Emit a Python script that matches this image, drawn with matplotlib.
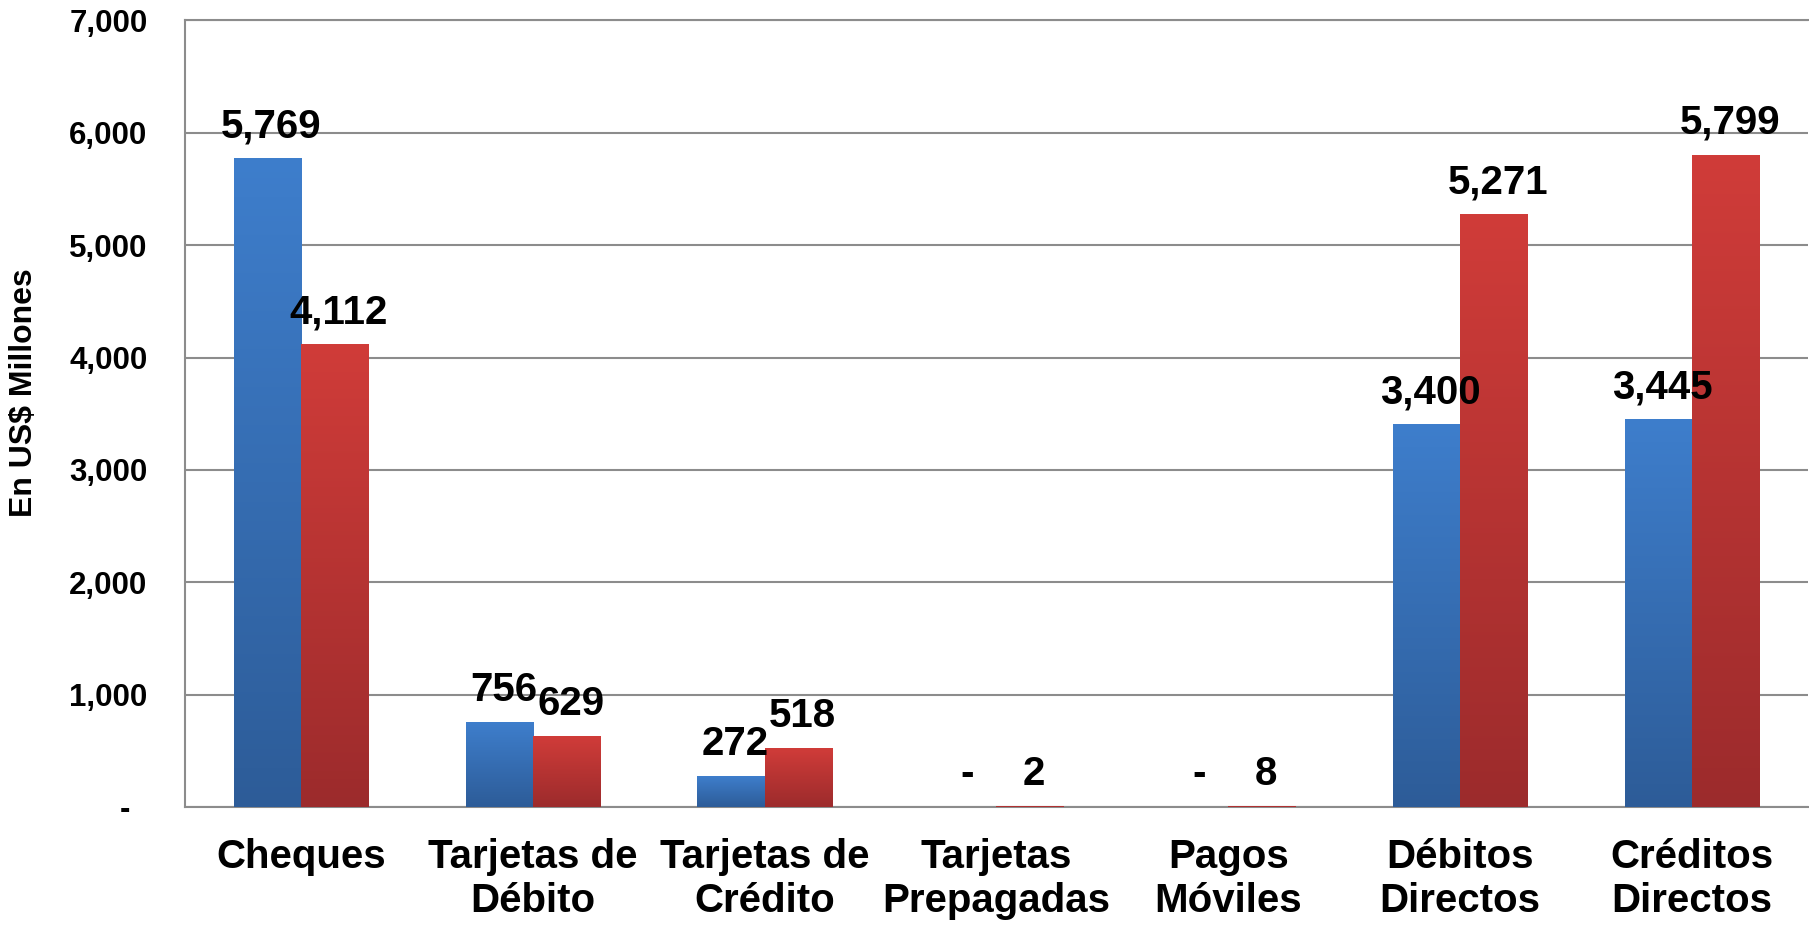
import matplotlib
matplotlib.use("Agg")
import matplotlib.pyplot as plt
import numpy as np
from matplotlib.colors import to_rgb

plt.rcParams['font.family'] = ['Liberation Sans', 'DejaVu Sans']
plt.rcParams['font.weight'] = 'bold'

categories = ["Cheques", "Tarjetas de\nDébito", "Tarjetas de\nCrédito", "Tarjetas\nPrepagadas",
              "Pagos\nMóviles", "Débitos\nDirectos", "Créditos\nDirectos"]
serie_azul = [5769, 756, 272, 0, 0, 3400, 3445]
serie_roja = [4112, 629, 518, 2, 8, 5271, 5799]
yticks = [0, 1000, 2000, 3000, 4000, 5000, 6000, 7000]
ytick_labels = ["-  ", "1,000", "2,000", "3,000", "4,000", "5,000", "6,000", "7,000"]

blue_top, blue_bot = "#3E7ECC", "#2D5C98"
red_top, red_bot = "#D03C39", "#9C2B2C"
grid_col = "#8C8C8C"

fig = plt.figure(figsize=(18.09, 9.26), dpi=100)
ax = fig.add_axes([185/1809, (926-807)/926, (1808-185)/1809, (807-20.5)/926])

x = np.arange(len(categories))
w = 0.29

def grad_bars(xpos, vals, ctop, cbot):
    bars = ax.bar(xpos, vals, w, color=cbot, zorder=3, linewidth=0)
    t = np.array(to_rgb(ctop)); b = np.array(to_rgb(cbot))
    f = np.linspace(0, 1, 256)[:, None]
    img = (t * (1 - f) + b * f)[:, None, :]
    for bar in bars:
        h = bar.get_height()
        if h <= 0:
            continue
        x0 = bar.get_x()
        ax.imshow(img, extent=[x0, x0 + bar.get_width(), 0, h], aspect='auto',
                  zorder=4, interpolation='bilinear')
    return bars

b1 = grad_bars(x - w/2, serie_azul, blue_top, blue_bot)
b2 = grad_bars(x + w/2, serie_roja, red_top, red_bot)

ax.set_xlim(-0.5, len(categories) - 0.5)
ax.set_ylim(0, 7000)

def fmt(v):
    return "-" if v == 0 else f"{v:,}"

for bars, vals in ((b1, serie_azul), (b2, serie_roja)):
    for bar, v in zip(bars, vals):
        ax.annotate(fmt(v), (bar.get_x() + bar.get_width()/2, bar.get_height()),
                    xytext=(3, 15.5), textcoords='offset points', ha='center', va='baseline',
                    fontsize=29, fontweight='bold', zorder=6)

ax.set_yticks(yticks)
ax.set_yticklabels(ytick_labels, fontsize=22.5, fontweight='bold')
ax.set_xticks(x)
ax.set_xticklabels(categories, fontsize=29, fontweight='bold', linespacing=1.22)
ax.tick_params(axis='y', length=0, pad=27)
ax.tick_params(axis='x', length=0, pad=22)

ax.grid(axis='y', color=grid_col, linewidth=1.5, zorder=0)
ax.set_axisbelow(True)
ax.spines['right'].set_visible(False)
for s in ['left', 'bottom', 'top']:
    ax.spines[s].set_color(grid_col)
    ax.spines[s].set_linewidth(1.5)

fig.text(24/1809, 1 - 393/926, "En US$ Millones", rotation=90, ha='center', va='center',
         fontsize=23, fontweight='bold')

fig.savefig("out.png", dpi=100)
